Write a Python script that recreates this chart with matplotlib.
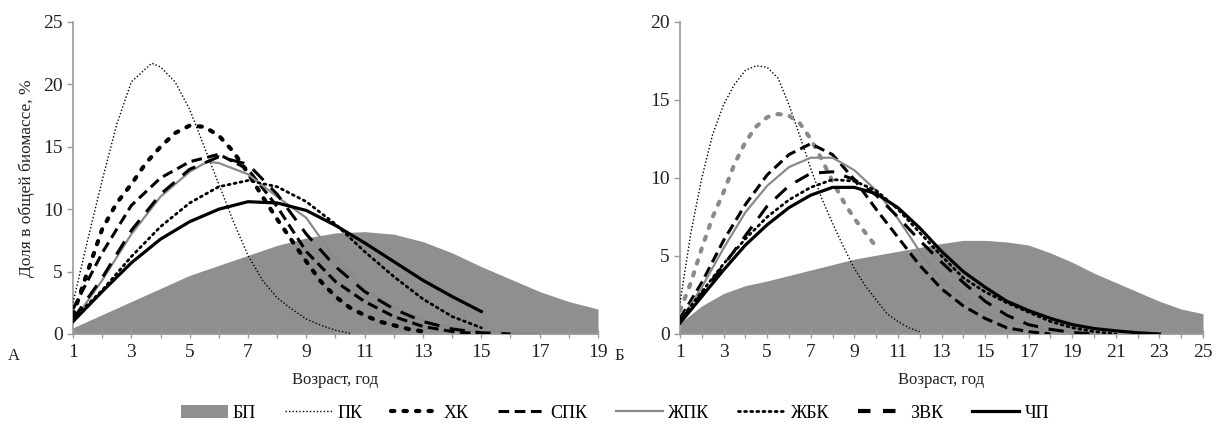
import matplotlib
matplotlib.use("Agg")
import matplotlib.pyplot as plt
from matplotlib.patches import Patch
from matplotlib.lines import Line2D

plt.rcParams['font.family'] = ['Liberation Serif', 'DejaVu Serif']

# ---------------- Panel A data ----------------
a_bp_x = [1, 3, 5, 7, 8, 9, 10, 11, 12, 13, 14, 15, 16, 17, 18, 19]
a_bp_y = [0.5, 2.6, 4.7, 6.3, 7.1, 7.7, 8.1, 8.2, 8.0, 7.4, 6.5, 5.4, 4.4, 3.4, 2.6, 2.0]

a_pk_x = [1, 1.5, 2, 2.5, 3, 3.7, 4, 4.5, 5, 5.5, 6, 6.5, 7, 7.5, 8, 8.5, 9, 9.5, 10, 10.5]
a_pk_y = [2.5, 7.5, 12.3, 16.8, 20.2, 21.7, 21.4, 20.2, 18.0, 15.0, 12.0, 9.0, 6.3, 4.3, 2.9, 2.0, 1.2, 0.7, 0.3, 0.05]

a_hk_x = [1, 1.5, 2, 2.5, 3, 3.5, 4, 4.5, 5, 5.5, 6, 6.5, 7, 7.5, 8, 8.5, 9, 9.5, 10, 10.5, 11, 11.5, 12, 12.5, 13]
a_hk_y = [1.5, 5.0, 8.4, 10.5, 12.0, 13.7, 15.0, 16.1, 16.7, 16.6, 15.9, 14.6, 12.9, 11.0, 9.2, 7.5, 5.8, 4.2, 3.0, 2.1, 1.5, 1.0, 0.7, 0.4, 0.2]

a_spk_x = [1, 2, 3, 4, 5, 6, 7, 8, 9, 10, 11, 12, 13, 14, 15]
a_spk_y = [2.0, 6.5, 10.3, 12.5, 13.8, 14.4, 13.2, 10.2, 6.6, 4.2, 2.6, 1.4, 0.6, 0.2, 0.0]

a_zhpk_x = [1, 2, 3, 4, 5, 5.6, 6, 7, 8, 9, 10, 11, 12, 13, 14, 15, 16, 17]
a_zhpk_y = [1.0, 4.3, 8.0, 11.0, 13.0, 13.8, 13.7, 12.8, 11.0, 9.3, 6.0, 3.6, 2.1, 1.1, 0.5, 0.25, 0.1, 0.03]

a_zhbk_x = [1, 2, 3, 4, 5, 6, 7, 8, 9, 10, 11, 12, 13, 14, 15]
a_zhbk_y = [1.2, 3.5, 6.2, 8.6, 10.5, 11.8, 12.3, 11.8, 10.6, 8.8, 6.6, 4.6, 2.8, 1.4, 0.5]

a_zvk_x = [1, 2, 3, 4, 5, 6, 7, 8, 9, 10, 11, 12, 13, 14, 15, 16]
a_zvk_y = [1.2, 4.5, 8.3, 11.2, 13.2, 14.2, 13.6, 11.2, 8.0, 5.4, 3.4, 2.0, 1.0, 0.4, 0.1, 0.0]

a_chp_x = [1, 2, 3, 4, 5, 6, 7, 8, 9, 10, 11, 12, 13, 14, 15]
a_chp_y = [1.0, 3.4, 5.7, 7.6, 9.0, 10.0, 10.6, 10.5, 9.9, 8.7, 7.3, 5.8, 4.3, 3.0, 1.8]

# ---------------- Panel B data ----------------
b_bp_x = [1, 2, 3, 4, 5, 7, 9, 11, 13, 14, 15, 16, 17, 18, 19, 20, 21, 22, 23, 24, 25]
b_bp_y = [0.7, 1.8, 2.6, 3.1, 3.4, 4.1, 4.8, 5.3, 5.8, 6.0, 6.0, 5.9, 5.7, 5.2, 4.6, 3.9, 3.3, 2.7, 2.1, 1.6, 1.3]

b_pk_x = [1, 1.5, 2, 2.5, 3, 3.5, 4, 4.5, 5, 5.5, 6, 6.5, 7, 7.5, 8, 8.5, 9, 9.5, 10, 10.5, 11, 11.5, 12]
b_pk_y = [2.0, 6.5, 10.0, 12.8, 14.7, 16.0, 16.9, 17.2, 17.1, 16.4, 14.7, 12.7, 10.6, 8.7, 7.1, 5.6, 4.2, 3.1, 2.2, 1.3, 0.8, 0.4, 0.15]

b_hk_x = [1, 1.5, 2, 2.5, 3, 3.5, 4, 4.5, 5, 5.5, 6, 6.5, 7, 7.5, 8, 8.5, 9, 9.5, 10]
b_hk_y = [1.5, 3.3, 5.5, 7.5, 9.1, 10.9, 12.3, 13.3, 13.9, 14.1, 14.0, 13.5, 12.5, 11.2, 9.8, 8.5, 7.4, 6.5, 5.6]

b_spk_x = [1, 2, 3, 4, 5, 6, 7, 8, 9, 10, 11, 12, 13, 14, 15, 16, 17, 18]
b_spk_y = [1.0, 3.3, 6.0, 8.3, 10.2, 11.5, 12.2, 11.5, 9.9, 8.0, 6.2, 4.4, 2.9, 1.8, 1.0, 0.4, 0.15, 0.0]

b_zhpk_x = [1, 2, 3, 4, 5, 6, 7, 8, 9, 10, 11, 12, 13, 14, 15, 16, 17, 18, 19, 20]
b_zhpk_y = [0.8, 3.0, 5.5, 7.8, 9.5, 10.7, 11.3, 11.3, 10.5, 9.2, 7.4, 5.3, 3.5, 2.3, 1.4, 0.9, 0.5, 0.25, 0.1, 0.0]

b_zhbk_x = [1, 2, 3, 4, 5, 6, 7, 8, 9, 10, 11, 12, 13, 14, 15, 16, 17, 18, 19, 20, 21]
b_zhbk_y = [0.9, 2.7, 4.5, 6.1, 7.5, 8.6, 9.4, 9.9, 9.8, 9.2, 8.0, 6.5, 5.0, 3.6, 2.7, 2.0, 1.4, 0.8, 0.4, 0.15, 0.0]

b_zvk_x = [1, 2, 3, 4, 5, 6, 7, 8, 9, 10, 11, 12, 13, 14, 15, 16, 17, 18, 19, 20]
b_zvk_y = [0.8, 2.6, 4.4, 6.3, 8.2, 9.5, 10.3, 10.4, 9.9, 8.9, 7.5, 6.0, 4.6, 3.3, 2.1, 1.2, 0.6, 0.3, 0.1, 0.0]

b_chp_x = [1, 2, 3, 4, 5, 6, 7, 8, 9, 10, 11, 12, 13, 14, 15, 16, 17, 18, 19, 20, 21, 22, 23]
b_chp_y = [0.7, 2.4, 4.1, 5.7, 7.0, 8.1, 8.9, 9.4, 9.4, 9.0, 8.1, 6.8, 5.3, 4.0, 3.0, 2.1, 1.5, 1.0, 0.6, 0.35, 0.2, 0.08, 0.0]

legend_labels = ["БП", "ПК", "ХК", "СПК", "ЖПК", "ЖБК", "ЗВК", "ЧП"]
a_xticks = [1, 3, 5, 7, 9, 11, 13, 15, 17, 19]
b_xticks = [1, 3, 5, 7, 9, 11, 13, 15, 17, 19, 21, 23, 25]

FILL = "#8f8f8f"
GREY_LINE = "#8a8a8a"
SPINE = "#9a9a9a"

styles = {
    "ПК": dict(color="black", lw=1.0, linestyle=(0, (1, 1.5))),
    "ХК": dict(color="black", lw=3.0, linestyle=(0, (0.8, 2.2)), dash_capstyle="round"),
    "СПК": dict(color="black", lw=2.2, linestyle=(0, (3.5, 1.8))),
    "ЖПК": dict(color=GREY_LINE, lw=1.6, linestyle="-"),
    "ЖБК": dict(color="black", lw=2.0, linestyle=(0, (0.7, 1.5)), dash_capstyle="round"),
    "ЗВК": dict(color="black", lw=2.2, linestyle=(0, (5, 3.5))),
    "ЧП": dict(color="black", lw=2.3, linestyle="-"),
}

fig = plt.figure(figsize=(12.21, 4.29), dpi=100)
axA = fig.add_axes([73/1221, 95/429, 525/1221, 312/429])
axB = fig.add_axes([680/1221, 95/429, 523/1221, 312/429])


def setup(ax, xmax, ymax, xticks, yticks):
    ax.set_xlim(1, xmax)
    ax.set_ylim(0, ymax)
    for s in ("top", "right"):
        ax.spines[s].set_visible(False)
    for s in ("left", "bottom"):
        ax.spines[s].set_color(SPINE)
        ax.spines[s].set_linewidth(1.2)
    ax.set_xticks(xticks)
    ax.set_xticks(list(range(1, xmax + 1)), minor=True)
    ax.set_yticks(yticks)
    ax.tick_params(axis="both", which="both", colors=SPINE, labelcolor="#222222",
                   labelsize=14, length=4, width=1)
    ax.tick_params(axis="x", which="both", direction="inout", length=6, pad=4)
    ax.set_xlabel("Возраст, год", fontsize=12, color="#222222", labelpad=8)


setup(axA, 19, 25, a_xticks, [0, 5, 10, 15, 20, 25])
setup(axB, 25, 20, b_xticks, [0, 5, 10, 15, 20])
axA.set_ylabel("Доля в общей биомассе, %", fontsize=12.5, color="#222222", labelpad=6)

# Panel A
axA.fill_between(a_bp_x, a_bp_y, 0, color=FILL, lw=0, zorder=1)
axA.plot(a_pk_x, a_pk_y, **styles["ПК"], zorder=3)
axA.plot(a_hk_x, a_hk_y, **styles["ХК"], zorder=3)
axA.plot(a_spk_x, a_spk_y, **styles["СПК"], zorder=3)
axA.plot(a_zhpk_x, a_zhpk_y, **styles["ЖПК"], zorder=3)
axA.plot(a_zhbk_x, a_zhbk_y, **styles["ЖБК"], zorder=3)
axA.plot(a_zvk_x, a_zvk_y, **styles["ЗВК"], zorder=3)
axA.plot(a_chp_x, a_chp_y, **styles["ЧП"], zorder=3)

# Panel B
axB.fill_between(b_bp_x, b_bp_y, 0, color=FILL, lw=0, zorder=1)
axB.plot(b_pk_x, b_pk_y, **styles["ПК"], zorder=3)
hk_b = dict(styles["ХК"]); hk_b["color"] = GREY_LINE
axB.plot(b_hk_x, b_hk_y, **hk_b, zorder=3)
axB.plot(b_spk_x, b_spk_y, **styles["СПК"], zorder=3)
axB.plot(b_zhpk_x, b_zhpk_y, **styles["ЖПК"], zorder=3)
axB.plot(b_zhbk_x, b_zhbk_y, **styles["ЖБК"], zorder=3)
axB.plot(b_zvk_x, b_zvk_y, **styles["ЗВК"], zorder=3)
axB.plot(b_chp_x, b_chp_y, **styles["ЧП"], zorder=3)

fig.text(8/1221, 1 - 356/429, "А", fontsize=12, va="center", ha="left", color="#222222")
fig.text(615/1221, 1 - 356/429, "Б", fontsize=12, va="center", ha="left", color="#222222")

handles = [Patch(facecolor=FILL, edgecolor="none")]
for name in legend_labels[1:]:
    st = dict(styles[name])
    if name == "ЗВК":
        st["linestyle"] = (0, (3, 3))
        st["lw"] = 3.0
    handles.append(Line2D([0], [0], **st))
fig.legend(handles, legend_labels, loc="center", bbox_to_anchor=(615/1221, 1 - 413/429),
           ncol=8, frameon=False, fontsize=13, handlelength=2.6, columnspacing=1.6,
           handletextpad=0.3)

fig.savefig("out.png", dpi=100)
